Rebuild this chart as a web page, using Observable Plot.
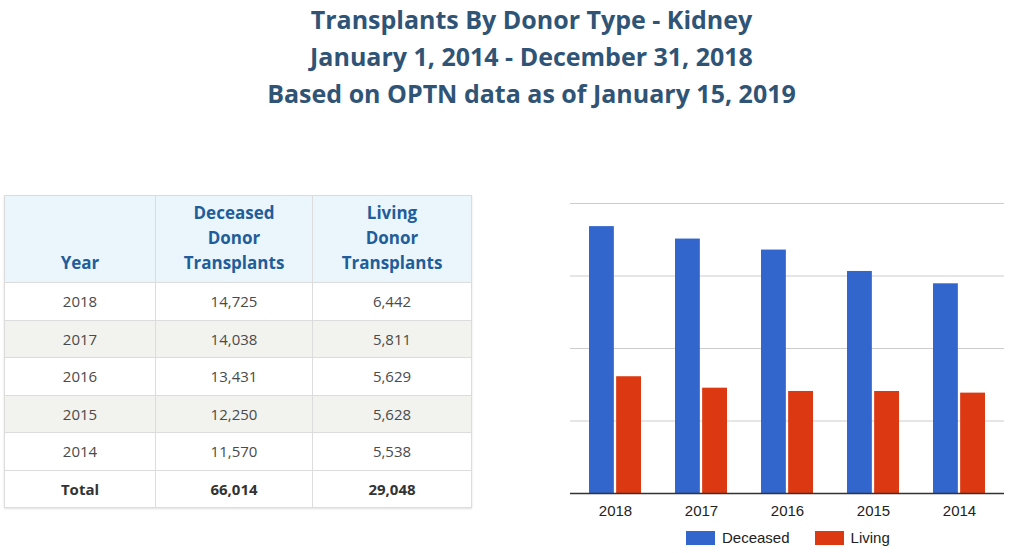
<!DOCTYPE html>
<html>
<head>
<meta charset="utf-8">
<script src="https://cdn.jsdelivr.net/npm/d3@7"></script>
<script src="https://cdn.jsdelivr.net/npm/@observablehq/plot@0.6"></script>
<style>
  html, body { margin: 0; padding: 0; background: #fff; }
  body { width: 1010px; height: 553px; position: relative; overflow: hidden; }
  #title { position: absolute; left: 0; top: 1px; width: 1063px; text-align: center;
    font-family: "Open Sans", sans-serif; font-weight: 700; font-size: 25px; line-height: 37px; color: #2f5476; }
  #tbl { position: absolute; left: 4px; top: 195px; border-collapse: collapse;
    font-family: "Open Sans", sans-serif; box-shadow: 0 1px 2px rgba(0,0,0,0.12); }
  #tbl td, #tbl th { border: 1px solid #dcdcdc; text-align: center; padding: 0; }
  #tbl th { background: #eaf6fc; color: #1f5d9b; font-weight: 700; font-size: 17px; line-height: 25px;
    vertical-align: bottom; padding-bottom: 7px; height: 79px; }
  #tbl td { font-size: 15px; color: #4a4a4a; height: 36.5px; }
  #tbl tr.alt td { background: #f2f2ee; }
  #tbl tr.total td { font-weight: 700; color: #333; }
  #chart { position: absolute; left: 560px; top: 195px; }
  #legend { position: absolute; left: 686px; top: 529px; display: flex; align-items: center;
    font-family: "Liberation Sans", Arial, sans-serif; font-size: 15px; color: #222; }
  #legend .item { display: flex; align-items: center; margin-right: 25px; }
  #legend .sw { width: 29px; height: 14px; margin-right: 7px; }
</style>
</head>
<body>
<div id="title"></div>
<table id="tbl"></table>
<div id="chart"></div>
<div id="legend"></div>
<script>
// ---- data ----
const titleLines = [
  "Transplants By Donor Type - Kidney",
  "January 1, 2014 - December 31, 2018",
  "Based on OPTN data as of January 15, 2019"
];
const years = ["2018", "2017", "2016", "2015", "2014"];
const deceased = [14725, 14038, 13431, 12250, 11570];
const living = [6442, 5811, 5629, 5628, 5538];
const totalLabel = "Total";
const totalDeceased = 66014;
const totalLiving = 29048;
const headers = [["Year"], ["Deceased", "Donor", "Transplants"], ["Living", "Donor", "Transplants"]];
const seriesNames = ["Deceased", "Living"];
const yTicks = [0, 4000, 8000, 12000, 16000];

// ---- styles ----
const colors = ["#3366cc", "#dc3912"];
const fmt = d3.format(",");

// title
document.getElementById("title").innerHTML = titleLines.map(t => `<div>${t}</div>`).join("");

// table
const colW = [150, 156, 158];
let html = "<tr>" + headers.map((h, i) => `<th style="width:${colW[i]}px">${h.join("<br>")}</th>`).join("") + "</tr>";
years.forEach((y, i) => {
  html += `<tr class="${i % 2 ? "alt" : ""}"><td>${y}</td><td>${fmt(deceased[i])}</td><td>${fmt(living[i])}</td></tr>`;
});
html += `<tr class="total"><td>${totalLabel}</td><td>${fmt(totalDeceased)}</td><td>${fmt(totalLiving)}</td></tr>`;
document.getElementById("tbl").innerHTML = html;

// chart
const rows = years.map((y, i) => ({year: y, deceased: deceased[i], living: living[i]}));
const W = 450, H = 330, mL = 10, mR = 6;
const padIn = 0.39, padOut = 0.207;
const step = (W - mL - mR) / (years.length - padIn + 2 * padOut);
const bw = step * (1 - padIn);
const inset = bw / 2 + 0.8;

const chart = Plot.plot({
  width: W,
  height: H,
  marginTop: 8,
  marginBottom: 32,
  marginLeft: mL,
  marginRight: mR,
  style: {fontFamily: "'Liberation Sans', Arial, sans-serif", fontSize: "15px", color: "#222", background: "transparent"},
  x: {domain: years, paddingInner: padIn, paddingOuter: padOut, label: null},
  y: {domain: [0, 16000], axis: null},
  marks: [
    Plot.ruleY(yTicks.slice(1), {stroke: "#cccccc", strokeWidth: 1}),
    Plot.barY(rows, {x: "year", y: "deceased", fill: colors[0], insetRight: inset}),
    Plot.barY(rows, {x: "year", y: "living", fill: colors[1], insetLeft: inset}),
    Plot.ruleY([0], {stroke: "#333", strokeWidth: 1.5}),
    Plot.axisX({tickSize: 0, tickPadding: 12, fontSize: 15, label: null})
  ]
});
document.getElementById("chart").appendChild(chart);

// legend
document.getElementById("legend").innerHTML = seriesNames.map((s, i) =>
  `<div class="item"><div class="sw" style="background:${colors[i]}"></div><span>${s}</span></div>`).join("");
</script>
</body>
</html>
